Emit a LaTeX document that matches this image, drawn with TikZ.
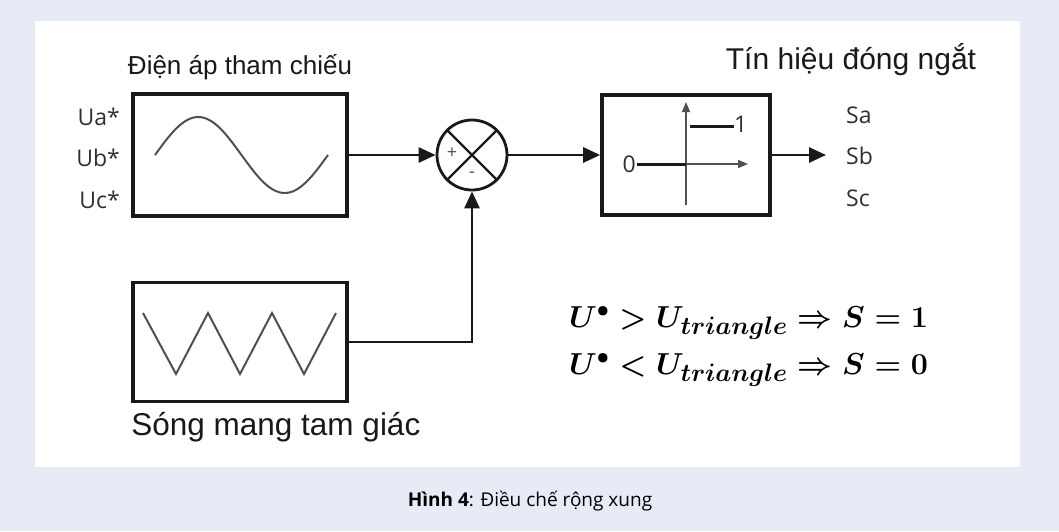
\documentclass[tikz,border=0pt]{standalone}
\usepackage{amsmath}
\usepackage{graphicx}
\usepackage{fontspec}
\setmainfont{Liberation Sans}
\newfontfamily\capfont{Open Sans}
\usetikzlibrary{arrows.meta,positioning,calc}
\definecolor{pagebg}{RGB}{231,235,246}
\definecolor{ink}{RGB}{25,25,25}
\definecolor{wavegray}{RGB}{80,80,80}
\newcommand{\rulemath}[1]{\scalebox{1.22}{$#1$}}
\tikzset{
  box/.style={draw=ink,line width=3.6pt,inner sep=0pt},
  lbl/.style={font=\fontsize{26}{30}\selectfont,text=ink,inner sep=2pt},
  sig/.style={font=\capfont\fontsize{23}{26}\selectfont,text=ink!90,inner sep=1pt},
  fl/.style={draw=ink,line width=2.8pt,-{Triangle[length=17pt,width=15pt]}},
  wave/.style={draw=wavegray,line width=2pt},
  ax/.style={draw=wavegray,line width=1.3pt},
  eqn/.style={anchor=west,text=black,font=\fontsize{24.88}{28}\selectfont\boldmath,inner sep=0pt},
}
\begin{document}
\begin{tikzpicture}[x=1pt,y=-1pt]
\useasboundingbox (0,0) rectangle (1059,531);
\fill[pagebg] (0,0) rectangle (1059,531);
\fill[white] (35,21) rectangle (1020,467);
% blocks
\node[box, minimum width=214pt, minimum height=122pt] (sinebox) at (240,155) {};
\node[box, minimum width=214pt, minimum height=119pt] (tribox) at (240,342) {};
\node[box, circle, line width=2.8pt, minimum size=70pt] (sum) at (472,155) {};
\node[box, minimum width=168pt, minimum height=120pt] (relay) at (686,155) {};
\coordinate (sout) at (826,155);
% sine and triangle carriers
\draw[wave] plot[domain=0:360, samples=72] ({155+\x/360*173}, {155-38*sin(\x)});
\draw[wave] (143,313) -- (176,374) -- (208,313) -- (240,374) -- (272,313) -- (304,374) -- (336,313);
% comparator cross
\draw[ink, line width=2.4pt] (sum.north west) -- (sum.south east) (sum.north east) -- (sum.south west);
\node[font=\capfont\fontsize{18}{18}\selectfont, text=wavegray] (plus) at ([xshift=-20pt,yshift=2pt]sum.center) {+};
\node[font=\capfont\fontsize{18}{18}\selectfont, text=wavegray] (minus) at ([yshift=-20pt]sum.center) {-};
% relay characteristic
\draw[ax, -{Triangle[length=10pt,width=8pt]}] (686,205) -- (686,102);
\draw[ax, -{Triangle[length=10pt,width=8pt]}] (637,164) -- (748,164);
\draw[ink, line width=3pt] (637,164) -- (686,164);
\draw[ink, line width=3pt] (690,126) -- (734,126);
\node[sig, anchor=east] (zero) at (637,164) {0};
\node[sig, anchor=west] (one) at (733,124) {1};
% connectors
\draw[fl] (sinebox) -- (sum);
\draw[fl] (sum) -- (relay);
\draw[fl] (relay.east) -- (sout);
\draw[fl] (tribox.east) -| (sum.south);
% labels
\node[lbl, above=10pt of sinebox] (reftitle) {Điện áp tham chiếu};
\node[lbl, anchor=north west, inner sep=0pt, font=\fontsize{31.5}{34}\selectfont]
  (carrier) at ([yshift=-9pt]tribox.south west) {Sóng mang tam giác};
\node[lbl, font=\fontsize{30}{34}\selectfont] (swtitle) at (851,60) {Tín hiệu đóng ngắt};
\node[sig, anchor=east] (ua) at (121,117) {Ua*};
\node[sig, anchor=east] (ub) at (121,158) {Ub*};
\node[sig, anchor=east] (uc) at (121,200) {Uc*};
\node[sig, anchor=west] (sa) at (845,115) {Sa};
\node[sig, anchor=west] (sb) at (845,156) {Sb};
\node[sig, anchor=west] (sc) at (845,198) {Sc};
% switching rule
\node[eqn] (eq1) at (569,323) {\rulemath{U^{\scriptscriptstyle\bullet} > U_{triangle} \Rightarrow S = 1}};
\node[eqn] (eq2) at (569,370) {\rulemath{U^{\scriptscriptstyle\bullet} < U_{triangle} \Rightarrow S = 0}};
% caption
\node[font=\capfont\fontsize{19}{22}\selectfont, text=black] (cap) at (530,501)
  {\textbf{Hình 4}: Điều chế rộng xung};
\end{tikzpicture}
\end{document}
